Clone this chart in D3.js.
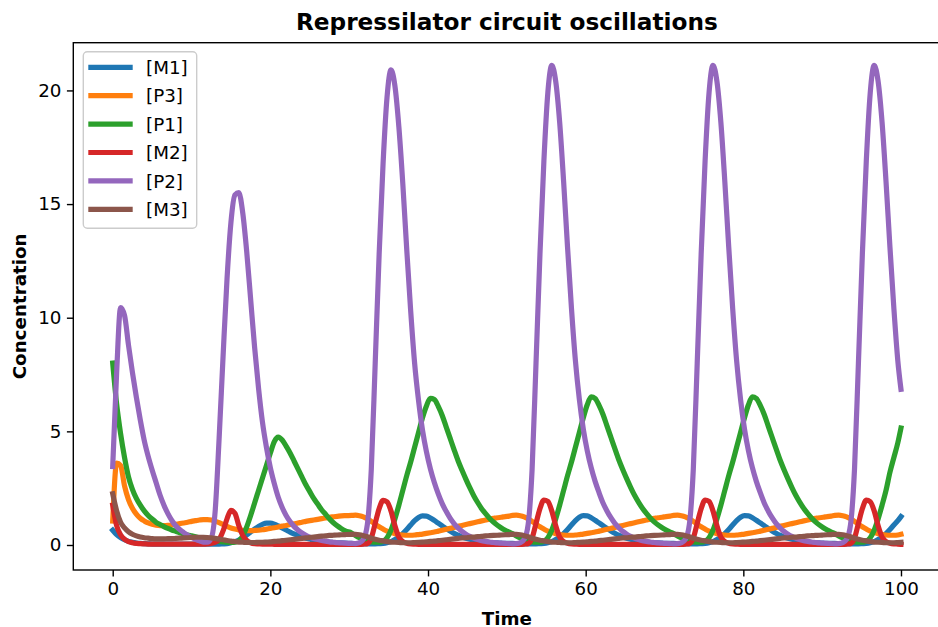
<!DOCTYPE html>
<html><head><meta charset="utf-8">
<script src="https://cdn.jsdelivr.net/npm/d3@7"></script>
<style>body{margin:0;background:#fff} svg{display:block}</style>
</head><body>
<svg id="c" width="938" height="627"></svg>
<script>
// time grid: first transient part every 0.5, then one block per oscillation cycle
// (each block starts 5 time units before that cycle's [P2] peak), last sample at t = 100
const segmentStarts = [0, 30.3, 50.7, 71.15, 91.6];
const segmentCounts = [60, 41, 41, 41, 17];
const timeEnd = 100;
const time = [];
segmentStarts.forEach((s, k) => { for (let j = 0; j < segmentCounts[k]; j++) time.push(+(s + j * 0.5).toFixed(2)); });
time.push(timeEnd);

const seriesNames = ["[M1]", "[P3]", "[P1]", "[M2]", "[P2]", "[M3]"];
const xTicks = [0, 20, 40, 60, 80, 100];
const yTicks = [0, 5, 10, 15, 20];

const M1 = [
0.65,0.46,0.33,0.23,0.16,0.12,0.09,0.07,0.06,0.05,
0.04,0.04,0.04,0.04,0.04,0.04,0.04,0.04,0.04,0.04,
0.04,0.04,0.04,0.04,0.04,0.04,0.04,0.04,0.05,0.06,
0.1,0.15,0.22,0.32,0.44,0.57,0.7,0.82,0.91,0.96,
0.96,0.92,0.84,0.75,0.66,0.57,0.49,0.42,0.36,0.3,
0.26,0.22,0.19,0.16,0.14,0.12,0.11,0.1,0.09,0.08,
0.07,0.06,0.05,0.05,0.05,0.05,0.05,0.06,0.07,0.1,
0.15,0.24,0.35,0.5,0.68,0.88,1.07,1.21,1.28,1.27,
1.19,1.08,0.96,0.84,0.72,0.61,0.51,0.43,0.36,0.3,
0.25,0.21,0.18,0.15,0.13,0.11,0.1,0.09,0.08,0.07,
0.07,
0.07,0.06,0.05,0.05,0.05,0.05,0.05,0.06,0.07,0.1,
0.15,0.24,0.35,0.5,0.68,0.88,1.07,1.22,1.29,1.28,
1.2,1.09,0.97,0.85,0.73,0.62,0.52,0.43,0.36,0.3,
0.25,0.21,0.18,0.15,0.13,0.11,0.1,0.09,0.08,0.07,
0.07,
0.07,0.06,0.05,0.05,0.05,0.05,0.05,0.06,0.07,0.1,
0.15,0.24,0.35,0.5,0.68,0.88,1.07,1.22,1.29,1.28,
1.2,1.09,0.97,0.85,0.73,0.62,0.52,0.43,0.36,0.3,
0.25,0.21,0.18,0.15,0.13,0.11,0.1,0.09,0.08,0.07,
0.07,
0.07,0.06,0.05,0.05,0.05,0.05,0.05,0.06,0.07,0.1,
0.15,0.24,0.35,0.5,0.68,0.88,1.07,1.25];

const P3 = [
1.05,3.6,3.5,2.6,2.0,1.62,1.36,1.18,1.06,0.97,
0.91,0.87,0.85,0.85,0.86,0.88,0.91,0.94,0.97,1.0,
1.04,1.07,1.1,1.12,1.12,1.1,1.05,0.98,0.9,0.82,
0.75,0.7,0.66,0.64,0.63,0.63,0.64,0.65,0.67,0.7,
0.73,0.76,0.79,0.83,0.86,0.9,0.93,0.97,1.0,1.04,
1.07,1.1,1.13,1.16,1.19,1.22,1.24,1.26,1.28,1.29,
1.3,1.31,1.29,1.24,1.15,1.04,0.92,0.8,0.7,0.61,
0.55,0.5,0.46,0.44,0.43,0.43,0.44,0.46,0.48,0.51,
0.54,0.57,0.61,0.65,0.69,0.73,0.77,0.82,0.86,0.9,
0.94,0.98,1.02,1.06,1.1,1.14,1.17,1.2,1.22,1.25,
1.27,
1.3,1.31,1.29,1.24,1.15,1.04,0.92,0.8,0.7,0.61,
0.55,0.5,0.46,0.44,0.43,0.43,0.44,0.46,0.48,0.51,
0.54,0.57,0.61,0.65,0.69,0.73,0.77,0.82,0.86,0.9,
0.94,0.98,1.02,1.06,1.1,1.14,1.17,1.2,1.22,1.25,
1.27,
1.3,1.31,1.29,1.24,1.15,1.04,0.92,0.8,0.7,0.61,
0.55,0.5,0.46,0.44,0.43,0.43,0.44,0.46,0.48,0.51,
0.54,0.57,0.61,0.65,0.69,0.73,0.77,0.82,0.86,0.9,
0.94,0.98,1.02,1.06,1.1,1.14,1.17,1.2,1.22,1.25,
1.27,
1.3,1.31,1.29,1.24,1.15,1.04,0.92,0.8,0.7,0.61,
0.55,0.5,0.46,0.44,0.43,0.43,0.44,0.47];

const P1 = [
8.0,6.2,4.9,3.85,3.0,2.45,2.05,1.75,1.5,1.3,
1.14,1.0,0.9,0.81,0.73,0.66,0.6,0.54,0.49,0.44,
0.4,0.36,0.32,0.28,0.25,0.22,0.19,0.16,0.14,0.12,
0.11,0.12,0.18,0.4,0.8,1.3,1.85,2.4,2.95,3.5,
4.05,4.55,4.75,4.62,4.35,4.05,3.7,3.35,3.0,2.65,
2.35,2.05,1.8,1.55,1.35,1.15,0.98,0.84,0.72,0.62,
0.53,0.42,0.32,0.24,0.18,0.14,0.12,0.12,0.17,0.32,
0.65,1.15,1.75,2.4,3.05,3.65,4.3,4.95,5.6,6.12,
6.45,6.4,6.1,5.7,5.2,4.7,4.2,3.72,3.3,2.9,
2.52,2.17,1.87,1.6,1.38,1.18,1.01,0.87,0.75,0.65,
0.57,
0.5,0.4,0.31,0.24,0.18,0.14,0.12,0.12,0.17,0.32,
0.65,1.15,1.75,2.4,3.05,3.65,4.3,4.95,5.6,6.17,
6.52,6.45,6.14,5.74,5.24,4.74,4.24,3.75,3.32,2.92,
2.54,2.19,1.89,1.62,1.39,1.19,1.02,0.88,0.76,0.66,
0.57,
0.5,0.4,0.31,0.24,0.18,0.14,0.12,0.12,0.17,0.32,
0.65,1.15,1.75,2.4,3.05,3.65,4.3,4.95,5.6,6.17,
6.52,6.45,6.14,5.74,5.24,4.74,4.24,3.75,3.32,2.92,
2.54,2.19,1.89,1.62,1.39,1.19,1.02,0.88,0.76,0.66,
0.57,
0.5,0.4,0.31,0.24,0.18,0.14,0.12,0.12,0.17,0.32,
0.65,1.15,1.75,2.4,3.2,3.85,4.5,5.15];

const M2 = [
1.75,0.85,0.45,0.25,0.15,0.1,0.07,0.06,0.05,0.04,
0.04,0.04,0.04,0.04,0.04,0.04,0.04,0.04,0.04,0.04,
0.04,0.04,0.04,0.04,0.05,0.07,0.12,0.25,0.62,1.15,
1.52,1.4,0.85,0.42,0.2,0.1,0.06,0.05,0.04,0.04,
0.04,0.03,0.03,0.03,0.03,0.03,0.03,0.03,0.03,0.03,
0.03,0.03,0.03,0.03,0.03,0.03,0.03,0.03,0.03,0.03,
0.03,0.03,0.03,0.04,0.06,0.3,0.95,1.6,1.96,1.9,
1.5,0.85,0.35,0.15,0.08,0.05,0.04,0.03,0.03,0.03,
0.03,0.03,0.03,0.03,0.03,0.03,0.03,0.03,0.03,0.03,
0.03,0.03,0.03,0.03,0.03,0.03,0.03,0.03,0.03,0.03,
0.03,
0.03,0.03,0.03,0.04,0.06,0.3,0.95,1.6,1.98,1.92,
1.5,0.85,0.35,0.15,0.08,0.05,0.04,0.03,0.03,0.03,
0.03,0.03,0.03,0.03,0.03,0.03,0.03,0.03,0.03,0.03,
0.03,0.03,0.03,0.03,0.03,0.03,0.03,0.03,0.03,0.03,
0.03,
0.03,0.03,0.03,0.04,0.06,0.3,0.95,1.6,1.98,1.92,
1.5,0.85,0.35,0.15,0.08,0.05,0.04,0.03,0.03,0.03,
0.03,0.03,0.03,0.03,0.03,0.03,0.03,0.03,0.03,0.03,
0.03,0.03,0.03,0.03,0.03,0.03,0.03,0.03,0.03,0.03,
0.03,
0.03,0.03,0.03,0.04,0.06,0.3,0.95,1.6,1.97,1.9,
1.5,0.85,0.35,0.15,0.08,0.05,0.04,0.03];

const P2 = [
3.45,7.6,10.45,10.1,8.8,7.6,6.5,5.5,4.6,3.9,
3.3,2.75,2.2,1.75,1.38,1.08,0.85,0.68,0.55,0.43,
0.33,0.25,0.18,0.13,0.12,0.3,1.5,4.7,8.3,11.7,
14.2,15.4,15.5,14.6,12.9,10.8,8.7,6.9,5.4,4.3,
3.4,2.7,2.1,1.65,1.3,1.03,0.82,0.66,0.53,0.43,
0.35,0.29,0.24,0.2,0.17,0.14,0.12,0.1,0.09,0.08,
0.07,0.06,0.1,0.25,0.9,3.3,8.0,12.8,16.8,19.7,
20.9,20.2,18.4,15.9,13.0,10.3,8.0,6.35,5.05,4.1,
3.35,2.75,2.25,1.82,1.48,1.18,0.94,0.75,0.6,0.48,
0.38,0.3,0.24,0.19,0.16,0.13,0.11,0.09,0.08,0.07,
0.06,
0.05,0.06,0.1,0.25,0.9,3.3,8.0,12.8,16.9,19.9,
21.1,20.4,18.6,16.0,13.1,10.4,8.1,6.4,5.1,4.15,
3.4,2.8,2.3,1.85,1.5,1.2,0.95,0.76,0.6,0.48,
0.38,0.3,0.24,0.19,0.16,0.13,0.11,0.09,0.08,0.07,
0.06,
0.05,0.06,0.1,0.25,0.9,3.3,8.0,12.8,16.9,19.9,
21.1,20.4,18.6,16.0,13.1,10.4,8.1,6.4,5.1,4.15,
3.4,2.8,2.3,1.85,1.5,1.2,0.95,0.76,0.6,0.48,
0.38,0.3,0.24,0.19,0.16,0.13,0.11,0.09,0.08,0.07,
0.06,
0.05,0.06,0.1,0.25,0.9,3.3,8.0,12.8,16.9,19.9,
21.1,20.4,18.6,16.0,13.1,10.4,8.1,6.85];

const M3 = [
2.25,1.5,1.0,0.75,0.58,0.47,0.4,0.35,0.32,0.3,
0.28,0.27,0.27,0.27,0.28,0.28,0.29,0.3,0.31,0.32,
0.33,0.34,0.34,0.34,0.33,0.31,0.29,0.26,0.23,0.2,
0.17,0.15,0.13,0.12,0.11,0.11,0.11,0.12,0.12,0.13,
0.14,0.16,0.17,0.19,0.21,0.23,0.25,0.27,0.29,0.31,
0.33,0.35,0.37,0.39,0.4,0.42,0.43,0.44,0.45,0.46,
0.47,0.47,0.45,0.41,0.36,0.3,0.25,0.21,0.18,0.15,
0.13,0.12,0.11,0.1,0.1,0.1,0.11,0.12,0.13,0.14,
0.16,0.17,0.19,0.21,0.23,0.25,0.27,0.29,0.31,0.32,
0.34,0.35,0.37,0.38,0.4,0.41,0.42,0.43,0.44,0.45,
0.46,
0.47,0.47,0.45,0.41,0.36,0.3,0.25,0.21,0.18,0.15,
0.13,0.12,0.11,0.1,0.1,0.1,0.11,0.12,0.13,0.14,
0.16,0.17,0.19,0.21,0.23,0.25,0.27,0.29,0.31,0.32,
0.34,0.35,0.37,0.38,0.4,0.41,0.42,0.43,0.44,0.45,
0.46,
0.47,0.47,0.45,0.41,0.36,0.3,0.25,0.21,0.18,0.15,
0.13,0.12,0.11,0.1,0.1,0.1,0.11,0.12,0.13,0.14,
0.16,0.17,0.19,0.21,0.23,0.25,0.27,0.29,0.31,0.32,
0.34,0.35,0.37,0.38,0.4,0.41,0.42,0.43,0.44,0.45,
0.46,
0.47,0.47,0.45,0.41,0.36,0.3,0.25,0.21,0.18,0.15,
0.13,0.12,0.11,0.1,0.1,0.1,0.11,0.12];

const seriesValues = [M1, P3, P1, M2, P2, M3];
const colors = ["#1f77b4", "#ff7f0e", "#2ca02c", "#d62728", "#9467bd", "#8c564b"];

(function draw() {
  seriesValues.forEach((s, i) => { if (s.length !== time.length) console.error(seriesNames[i] + " length " + s.length); });

  const font = "'DejaVu Sans', sans-serif";
  const fs = "18.3px";
  const svg = d3.select("#c");
  const pL = 73.3, pR = 940.4, pT = 42.7, pB = 570;
  const x = d3.scaleLinear().domain([-5, 105]).range([pL, pR]);
  const y = d3.scaleLinear().domain([-1.1, 22.1]).range([pB, pT]);

  svg.append("rect").attr("width", 938).attr("height", 627).attr("fill", "#fff");

  const line = d3.line().x((d, i) => x(time[i])).y(d => y(d)).curve(d3.curveMonotoneX);
  const gLines = svg.append("g");
  seriesValues.forEach((s, i) => {
    gLines.append("path").datum(s).attr("d", line)
      .attr("fill", "none").attr("stroke", colors[i])
      .attr("stroke-width", 5.2).attr("stroke-linejoin", "round").attr("stroke-linecap", "square");
  });

  const xAxis = d3.axisBottom(x).tickValues(xTicks).tickSize(6.4).tickPadding(5.5).tickFormat(d3.format("d"));
  const yAxis = d3.axisLeft(y).tickValues(yTicks).tickSize(6.4).tickPadding(5.5).tickFormat(d3.format("d"));
  const gx = svg.append("g").attr("transform", `translate(0,${pB})`).call(xAxis);
  const gy = svg.append("g").attr("transform", `translate(${pL},0)`).call(yAxis);
  [gx, gy].forEach(g => {
    g.select(".domain").remove();
    g.selectAll(".tick line").attr("stroke", "#000").attr("stroke-width", 1.4);
    g.selectAll(".tick text").attr("fill", "#000").style("font-family", font).style("font-size", fs);
  });

  svg.append("rect").attr("x", pL).attr("y", pT).attr("width", pR - pL).attr("height", pB - pT)
    .attr("fill", "none").attr("stroke", "#000").attr("stroke-width", 1.4);

  svg.append("text").attr("x", (pL + pR) / 2).attr("y", 30).attr("text-anchor", "middle")
    .style("font-family", font).style("font-size", "23.2px").style("font-weight", "bold").text("Repressilator circuit oscillations");
  svg.append("text").attr("x", (pL + pR) / 2).attr("y", 624.5).attr("text-anchor", "middle")
    .style("font-family", font).style("font-size", fs).style("font-weight", "bold").text("Time");
  svg.append("text").attr("transform", `translate(26,${(pT + pB) / 2}) rotate(-90)`).attr("text-anchor", "middle")
    .style("font-family", font).style("font-size", fs).style("font-weight", "bold").text("Concentration");

  const lg = svg.append("g");
  lg.append("rect").attr("x", 83.3).attr("y", 51.7).attr("width", 113.4).attr("height", 176.6).attr("rx", 4)
    .attr("fill", "#fff").attr("fill-opacity", 0.8).attr("stroke", "#cccccc").attr("stroke-width", 1.4);
  seriesNames.forEach((n, i) => {
    const yy = 67.3 + i * 28.4;
    lg.append("line").attr("x1", 88.3).attr("x2", 132.7).attr("y1", yy).attr("y2", yy)
      .attr("stroke", colors[i]).attr("stroke-width", 5.2);
    lg.append("text").attr("x", 146).attr("y", yy + 6.6)
      .style("font-family", font).style("font-size", fs).text(n);
  });
})();
</script>
</body></html>
